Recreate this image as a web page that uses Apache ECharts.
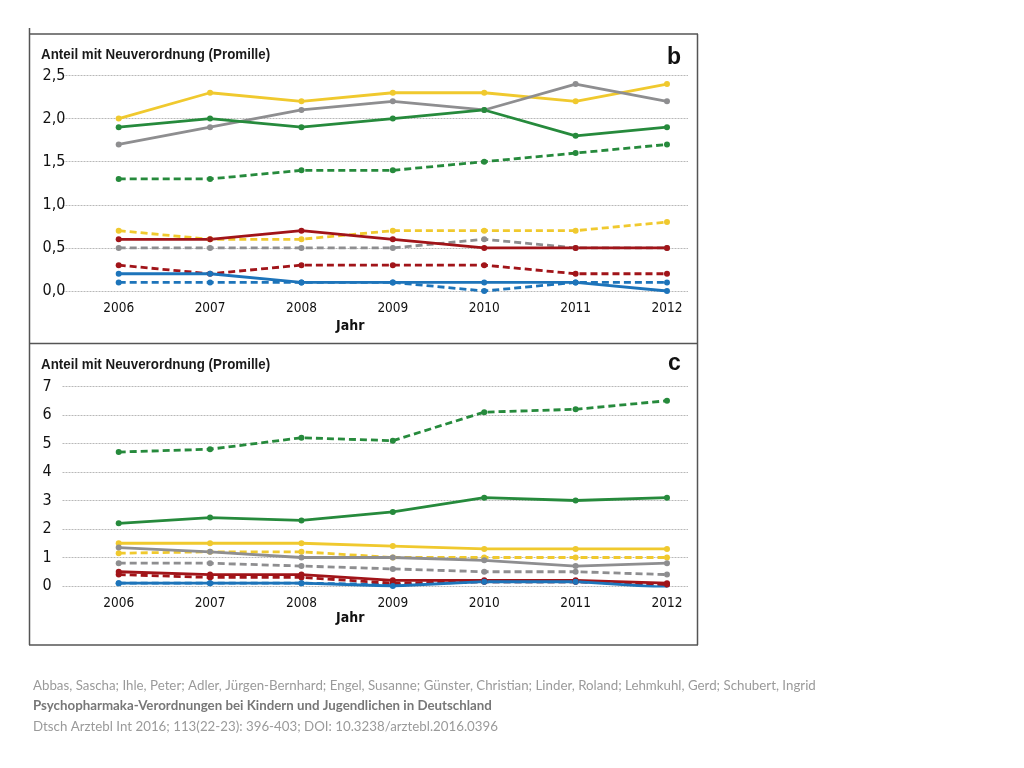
<!DOCTYPE html>
<html><head><meta charset="utf-8">
<script src="https://cdn.jsdelivr.net/npm/echarts@6/dist/echarts.min.js"></script>
<style>html,body{margin:0;padding:0;background:#fff;}#c{width:1024px;height:768px;}</style>
</head><body><div id="c"></div>
<script>
// ---------- data ----------
const years = [2006, 2007, 2008, 2009, 2010, 2011, 2012];

// Panel b
const bYellowSolid = [2.0, 2.3, 2.2, 2.3, 2.3, 2.2, 2.4];
const bGraySolid   = [1.7, 1.9, 2.1, 2.2, 2.1, 2.4, 2.2];
const bGreenSolid  = [1.9, 2.0, 1.9, 2.0, 2.1, 1.8, 1.9];
const bGreenDash   = [1.3, 1.3, 1.4, 1.4, 1.5, 1.6, 1.7];
const bYellowDash  = [0.7, 0.6, 0.6, 0.7, 0.7, 0.7, 0.8];
const bRedSolid    = [0.6, 0.6, 0.7, 0.6, 0.5, 0.5, 0.5];
const bGrayDash    = [0.5, 0.5, 0.5, 0.5, 0.6, 0.5, 0.5];
const bRedDash     = [0.3, 0.2, 0.3, 0.3, 0.3, 0.2, 0.2];
const bBlueSolid   = [0.2, 0.2, 0.1, 0.1, 0.1, 0.1, 0.0];
const bBlueDash    = [0.1, 0.1, 0.1, 0.1, 0.0, 0.1, 0.1];

// Panel c
const cGreenDash   = [4.7, 4.8, 5.2, 5.1, 6.1, 6.2, 6.5];
const cGreenSolid  = [2.2, 2.4, 2.3, 2.6, 3.1, 3.0, 3.1];
const cYellowSolid = [1.5, 1.5, 1.5, 1.4, 1.3, 1.3, 1.3];
const cGraySolid   = [1.35, 1.2, 1.0, 1.0, 0.9, 0.7, 0.8];
const cYellowDash  = [1.15, 1.2, 1.2, 1.0, 1.0, 1.0, 1.0];
const cGrayDash    = [0.8, 0.8, 0.7, 0.6, 0.5, 0.5, 0.4];
const cRedSolid    = [0.5, 0.4, 0.4, 0.2, 0.2, 0.2, 0.1];
const cRedDash     = [0.4, 0.3, 0.3, 0.1, 0.15, 0.15, 0.05];
const cBlueSolid   = [0.1, 0.1, 0.1, 0.0, 0.15, 0.15, -0.05];
const cBlueDash    = [0.1, 0.1, 0.1, 0.05, 0.15, 0.15, 0.05];

const yTicksB = [0, 0.5, 1.0, 1.5, 2.0, 2.5];
const yTicksC = [0, 1, 2, 3, 4, 5, 6, 7];

const yTitle = 'Anteil mit Neuverordnung (Promille)';
const xTitle = 'Jahr';
const citation = [
  'Abbas, Sascha; Ihle, Peter; Adler, Jürgen-Bernhard; Engel, Susanne; Günster, Christian; Linder, Roland; Lehmkuhl, Gerd; Schubert, Ingrid',
  'Psychopharmaka-Verordnungen bei Kindern und Jugendlichen in Deutschland',
  'Dtsch Arztebl Int 2016; 113(22-23): 396-403; DOI: 10.3238/arztebl.2016.0396'
];

// ---------- styles ----------
const COL = { yellow:'#F0C92E', gray:'#8E8E90', green:'#268A3C', red:'#A11419', blue:'#1D74BA' };
const FONT = '"Liberation Sans Narrow", "Arial Narrow", "DejaVu Sans Condensed", "Roboto Condensed", Roboto, sans-serif';

function mk(name, arr, color, dashed, idx) {
  return {
    name, type:'line', xAxisIndex: idx, yAxisIndex: idx,
    data: years.map((y,i)=>[y, arr[i]]),
    symbol:'circle', symbolSize:6, showSymbol:true,
    lineStyle:{ color, width:2.8, type: dashed ? [7,4] : 'solid' },
    itemStyle:{ color },
    emphasis:{ disabled:true }, animation:false
  };
}

const xMin = 2005.385, xMax = 2012.23;
function xAxis(idx) {
  return {
    type:'value', gridIndex: idx, min:xMin, max:xMax,
    axisLine:{show:false}, axisTick:{show:false}, splitLine:{show:false},
    axisLabel:{ customValues: years, color:'#111', fontFamily:FONT, fontSize:13.5, margin:10,
      formatter: v => String(Math.round(v)) },
    name: xTitle, nameLocation:'middle', nameGap: idx===0 ? 28 : 25,
    nameTextStyle:{ fontFamily:FONT, fontSize:14, fontWeight:'bold', color:'#111', padding:[0, 50, 0, 0] }
  };
}
function yAxis(idx, max, interval, fmt) {
  return {
    type:'value', gridIndex: idx, min:0, max, interval,
    axisLine:{show:false}, axisTick:{show:false},
    splitLine:{ show:true, lineStyle:{ color:'#b8b8b8', width:1, type:[2,1] } },
    axisLabel:{ align:'left', margin:20, color:'#111', fontFamily:FONT, fontSize:16, formatter: fmt }
  };
}

const chart = echarts.init(document.getElementById('c'));
const borderStyle = { stroke:'#555', lineWidth:1.5 };
chart.setOption({
  backgroundColor:'#fff',
  animation:false,
  grid:[
    { left:62.5, width:625.5, top:75.5, height:215.5 },
    { left:62.5, width:625.5, top:386.5, height:199.5 }
  ],
  xAxis:[ xAxis(0), xAxis(1) ],
  yAxis:[
    yAxis(0, 2.5, 0.5, v => v.toFixed(1).replace('.', ',')),
    yAxis(1, 7, 1, v => String(v))
  ],
  series:[
    mk('b: gelb, durchgezogen', bYellowSolid, COL.yellow, false, 0),
    mk('b: grau, durchgezogen', bGraySolid, COL.gray, false, 0),
    mk('b: grün, durchgezogen', bGreenSolid, COL.green, false, 0),
    mk('b: grün, gestrichelt', bGreenDash, COL.green, true, 0),
    mk('b: gelb, gestrichelt', bYellowDash, COL.yellow, true, 0),
    mk('b: grau, gestrichelt', bGrayDash, COL.gray, true, 0),
    mk('b: rot, durchgezogen', bRedSolid, COL.red, false, 0),
    mk('b: rot, gestrichelt', bRedDash, COL.red, true, 0),
    mk('b: blau, gestrichelt', bBlueDash, COL.blue, true, 0),
    mk('b: blau, durchgezogen', bBlueSolid, COL.blue, false, 0),

    mk('c: grün, gestrichelt', cGreenDash, COL.green, true, 1),
    mk('c: grün, durchgezogen', cGreenSolid, COL.green, false, 1),
    mk('c: gelb, durchgezogen', cYellowSolid, COL.yellow, false, 1),
    mk('c: gelb, gestrichelt', cYellowDash, COL.yellow, true, 1),
    mk('c: grau, durchgezogen', cGraySolid, COL.gray, false, 1),
    mk('c: grau, gestrichelt', cGrayDash, COL.gray, true, 1),
    mk('c: blau, gestrichelt', cBlueDash, COL.blue, true, 1),
    mk('c: rot, gestrichelt', cRedDash, COL.red, true, 1),
    mk('c: rot, durchgezogen', cRedSolid, COL.red, false, 1),
    mk('c: blau, durchgezogen', cBlueSolid, COL.blue, false, 1)
  ],
  graphic:[
    // frames
    { type:'line', shape:{x1:29, y1:34, x2:698, y2:34}, style:borderStyle, silent:true },
    { type:'line', shape:{x1:29, y1:343.5, x2:698, y2:343.5}, style:borderStyle, silent:true },
    { type:'line', shape:{x1:29, y1:645, x2:698, y2:645}, style:borderStyle, silent:true },
    { type:'line', shape:{x1:29.5, y1:28, x2:29.5, y2:645}, style:borderStyle, silent:true },
    { type:'line', shape:{x1:697.5, y1:34, x2:697.5, y2:645}, style:borderStyle, silent:true },
    // panel titles
    { type:'text', x:41, y:47, scaleX:0.89, style:{ text:yTitle, font:'bold 15px "Liberation Sans", Arial, sans-serif', fill:'#1a1a1a' } },
    { type:'text', x:41, y:357, scaleX:0.89, style:{ text:yTitle, font:'bold 15px "Liberation Sans", Arial, sans-serif', fill:'#1a1a1a' } },
    { type:'text', x:667, y:46, style:{ text:'b', font:'bold 23px "Liberation Sans", Arial, sans-serif', fill:'#111' } },
    { type:'text', x:668, y:352, style:{ text:'c', font:'bold 23px "Liberation Sans", Arial, sans-serif', fill:'#111' } },
    // citation
    { type:'text', x:33, y:679, style:{ text:citation[0], font:'13.3px Lato, "Open Sans", sans-serif', fill:'#9a9a9a' } },
    { type:'text', x:33, y:699, style:{ text:citation[1], font:'bold 13.3px Lato, "Open Sans", sans-serif', fill:'#777' } },
    { type:'text', x:33, y:720, style:{ text:citation[2], font:'13.3px Lato, "Open Sans", sans-serif', fill:'#9a9a9a' } }
  ]
});
</script>
</body></html>
